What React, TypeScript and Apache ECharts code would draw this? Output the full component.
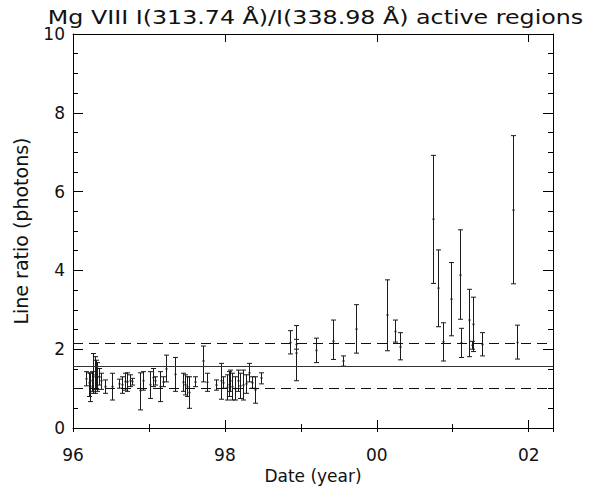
import React, { useEffect, useRef } from "react";
import * as echarts from "echarts";

const chartTitle = "Mg VIII I(313.74 Å)/I(338.98 Å) active regions";
const xAxisTitle = "Date (year)";
const yAxisTitle = "Line ratio (photons)";

// observation dates (years - 1900)
const dates = [
  96.17, 96.21, 96.23, 96.25, 96.26, 96.29, 96.30, 96.31, 96.34, 96.37,
  96.42, 96.51, 96.61, 96.65, 96.68, 96.71, 96.75, 96.78, 96.88, 96.92,
  97.01, 97.05, 97.08, 97.15, 97.18, 97.23, 97.34, 97.45, 97.48, 97.50,
  97.53, 97.60, 97.71, 97.77, 97.88, 97.95, 97.98, 98.03, 98.05, 98.07,
  98.09, 98.13, 98.17, 98.20, 98.24, 98.28, 98.32, 98.36, 98.39, 98.48,
  98.86, 98.93, 98.94, 99.20, 99.42, 99.56, 99.72, 100.13, 100.24, 100.31,
  100.74, 100.81, 100.87, 100.98, 101.09, 101.11, 101.22, 101.27, 101.25, 101.39,
  101.79, 101.84,
];
// measured line ratio
const ratios = [
  1.25, 1.15, 1.05, 1.2, 1.35, 1.3, 1.3, 1.3, 1.3, 1.2,
  1.05, 1.05, 1.12, 1.1, 1.18, 1.17, 1.2, 1.18, 0.95, 1.2,
  1.1, 1.28, 1.2, 1.05, 1.17, 1.5, 1.36, 1.16, 1.1, 1.05,
  0.9, 1.17, 1.7, 1.16, 1.09, 1.2, 1.15, 1.03, 1.1, 1.2,
  1.05, 1.0, 1.2, 1.07, 1.09, 1.12, 1.4, 1.15, 0.97, 1.27,
  2.17, 2.12, 1.9, 1.97, 2.2, 1.7, 2.51, 2.87, 2.45, 2.06,
  5.3, 3.55, 2.19, 3.27, 3.88, 2.16, 2.74, 2.63, 2.1, 2.12,
  5.53, 2.17,
];
// lower end of error bar
const lowerBounds = [
  1.07, 0.8, 0.67, 0.93, 0.88, 0.88, 0.98, 0.93, 1.09, 0.98,
  0.88, 0.71, 1.01, 0.88, 0.96, 0.93, 1.05, 1.09, 0.46, 0.96,
  0.75, 1.05, 1.09, 0.67, 1.05, 1.17, 0.93, 0.93, 0.84, 0.8,
  0.5, 1.05, 1.17, 0.93, 0.96, 0.73, 1.01, 0.71, 0.8, 0.93,
  0.71, 0.71, 0.93, 0.75, 0.71, 0.88, 1.17, 1.01, 0.63, 1.12,
  1.88, 2.0, 1.2, 1.66, 1.74, 1.57, 1.9, 1.96, 2.18, 1.73,
  3.67, 2.57, 1.7, 2.34, 2.76, 1.79, 1.81, 1.94, 2.0, 1.83,
  3.66, 1.75,
];
// upper end of error bar
const upperBounds = [
  1.43, 1.4, 1.39, 1.43, 1.89, 1.81, 1.72, 1.66, 1.51, 1.39,
  1.22, 1.39, 1.24, 1.3, 1.39, 1.4, 1.35, 1.26, 1.4, 1.43,
  1.43, 1.51, 1.3, 1.43, 1.3, 1.85, 1.79, 1.39, 1.35, 1.3,
  1.3, 1.3, 2.08, 1.39, 1.22, 1.64, 1.3, 1.35, 1.43, 1.47,
  1.39, 1.3, 1.47, 1.39, 1.47, 1.35, 1.64, 1.3, 1.3, 1.4,
  2.47, 2.25, 2.6, 2.28, 2.74, 1.83, 3.13, 3.76, 2.74, 2.42,
  6.92, 4.52, 2.67, 4.2, 5.03, 2.53, 3.52, 3.32, 2.2, 2.42,
  7.42, 2.61,
];

// reference lines: mean and +/- spread
const meanRatio = 1.57;
const upperLimit = 2.15;
const lowerLimit = 1.0;

const xTickLabels: Record<number, string> = { 96: "96", 98: "98", 100: "00", 102: "02" };

const FONT = "DejaVu Sans";

export default function App() {
  const ref = useRef<HTMLDivElement>(null);
  useEffect(() => {
    if (!ref.current) return;
    const chart = echarts.init(ref.current, undefined, { renderer: "svg" });
    const data = dates.map((d, i) => [d, ratios[i], lowerBounds[i], upperBounds[i]]);
    const xMin = 96;
    const xMax = 102.32;
    const axisCommon = {
      type: "value",
      min: xMin,
      max: xMax,
      splitLine: { show: false },
      axisLine: { show: true, onZero: false, lineStyle: { color: "#000", width: 1 } },
    };
    const option: any = {
      animation: false,
      backgroundColor: "#fff",
      graphic: [
        {
          type: "text",
          x: 315.5,
          y: 17,
          scaleX: 1.25,
          scaleY: 1,
          silent: true,
          style: {
            text: chartTitle,
            fontFamily: FONT,
            fontSize: 19,
            fill: "#111",
            textAlign: "center",
            textVerticalAlign: "middle",
          },
        },
      ],
      grid: { left: 73, right: 38, top: 34, bottom: 58, containLabel: false, outerBoundsMode: "none" },
      xAxis: [
        {
          ...axisCommon,
          position: "bottom",
          interval: 2,
          name: xAxisTitle,
          nameLocation: "middle",
          nameGap: 38,
          nameTextStyle: { fontFamily: FONT, fontSize: 17, color: "#111" },
          axisTick: { show: true, inside: true, length: 8, lineStyle: { color: "#000" } },
          axisLabel: {
            show: true,
            margin: 18,
            fontFamily: FONT,
            fontSize: 17,
            color: "#111",
            formatter: (v: number) =>
              xTickLabels[Math.round(v)] && Math.abs(v - Math.round(v)) < 1e-6 ? xTickLabels[Math.round(v)] : "",
          },
        },
        {
          ...axisCommon,
          position: "bottom",
          interval: 1,
          axisLine: { show: false },
          axisTick: { show: true, inside: true, length: 4, lineStyle: { color: "#000" } },
          axisLabel: { show: false },
        },
        {
          ...axisCommon,
          position: "top",
          interval: 2,
          axisTick: { show: true, inside: true, length: 8, lineStyle: { color: "#000" } },
          axisLabel: { show: false },
        },
        {
          ...axisCommon,
          position: "top",
          interval: 1,
          axisLine: { show: false },
          axisTick: { show: true, inside: true, length: 4, lineStyle: { color: "#000" } },
          axisLabel: { show: false },
        },
      ],
      yAxis: [
        {
          type: "value",
          min: 0,
          max: 10,
          interval: 2,
          position: "left",
          name: yAxisTitle,
          nameLocation: "middle",
          nameGap: 43,
          nameTextStyle: { fontFamily: FONT, fontSize: 19, color: "#111" },
          splitLine: { show: false },
          axisLine: { show: true, onZero: false, lineStyle: { color: "#000", width: 1 } },
          axisTick: { show: true, inside: true, length: 10, lineStyle: { color: "#000" } },
          minorTick: { show: true, splitNumber: 4, length: 5, lineStyle: { color: "#000" } },
          axisLabel: { margin: 8, fontFamily: FONT, fontSize: 17, color: "#111" },
        },
        {
          type: "value",
          min: 0,
          max: 10,
          interval: 2,
          position: "right",
          splitLine: { show: false },
          axisLine: { show: true, onZero: false, lineStyle: { color: "#000", width: 1 } },
          axisTick: { show: true, inside: true, length: 10, lineStyle: { color: "#000" } },
          minorTick: { show: true, splitNumber: 4, length: 5, lineStyle: { color: "#000" } },
          axisLabel: { show: false },
        },
      ],
      series: [
        {
          type: "custom",
          xAxisIndex: 0,
          yAxisIndex: 0,
          data,
          encode: { x: 0, y: [1, 2, 3] },
          renderItem: (params: any, api: any) => {
            const x = api.value(0);
            const c = api.coord([x, api.value(1)]);
            const lo = api.coord([x, api.value(2)]);
            const hi = api.coord([x, api.value(3)]);
            const px = Math.round(lo[0]) + 0.5;
            const cap = 2.5;
            const st = { stroke: "#1a1a1a", lineWidth: 1 };
            return {
              type: "group",
              children: [
                { type: "line", shape: { x1: px, y1: lo[1], x2: px, y2: hi[1] }, style: st },
                { type: "line", shape: { x1: px - cap, y1: lo[1], x2: px + cap, y2: lo[1] }, style: st },
                { type: "line", shape: { x1: px - cap, y1: hi[1], x2: px + cap, y2: hi[1] }, style: st },
                { type: "rect", shape: { x: px - 1, y: c[1] - 0.75, width: 2, height: 1.5 }, style: { fill: "#1a1a1a" } },
              ],
            };
          },
          markLine: {
            silent: true,
            symbol: "none",
            label: { show: false },
            data: [
              { yAxis: meanRatio, lineStyle: { type: "solid", color: "#333", width: 1 } },
              { yAxis: upperLimit, lineStyle: { type: [10, 6], color: "#111", width: 1 } },
              { yAxis: lowerLimit, lineStyle: { type: [10, 6], color: "#111", width: 1 } },
            ],
          },
        },
      ],
    };
    chart.setOption(option);
    return () => chart.dispose();
  }, []);
  return (
    <div
      ref={ref}
      style={{ position: "absolute", left: 0, top: 0, width: 591, height: 486, background: "#fff" }}
    />
  );
}
